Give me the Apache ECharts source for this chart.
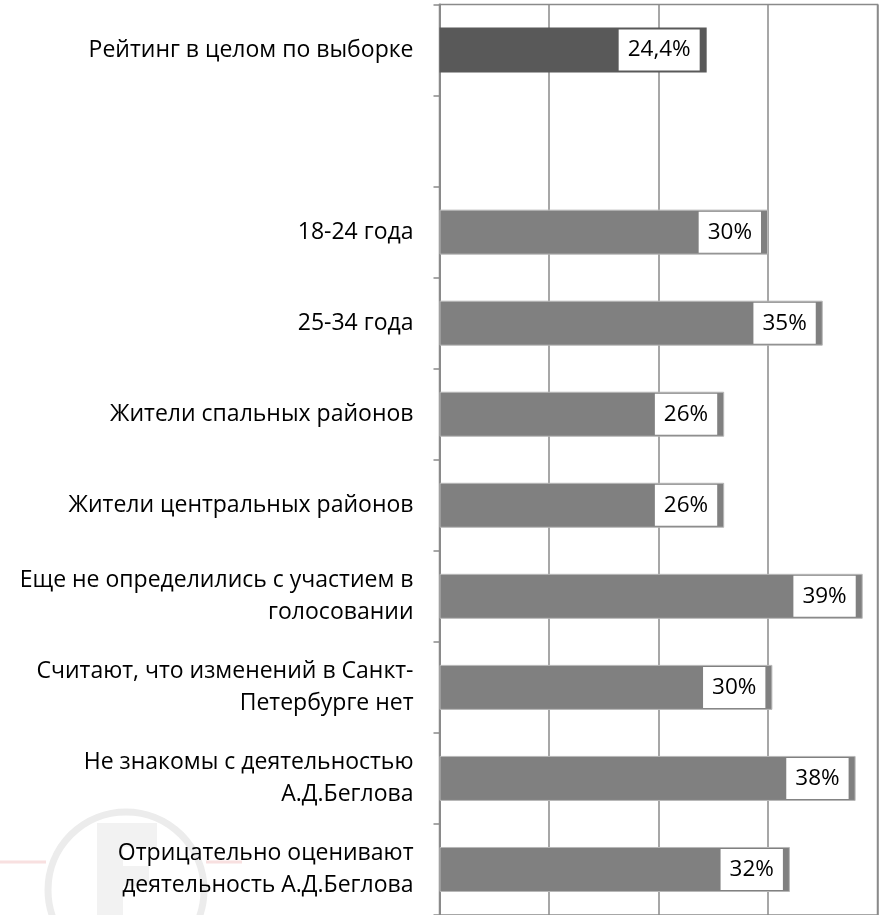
<!DOCTYPE html>
<html>
<head>
<meta charset="utf-8">
<script src="https://cdn.jsdelivr.net/npm/echarts@6/dist/echarts.min.js"></script>
<style>
  html, body { margin: 0; padding: 0; background: #fff; }
  #chart { width: 883px; height: 915px; }
</style>
</head>
<body>
<div id="chart"></div>
<script>
// categories top to bottom, '' is the empty gap row
const categories = [
  'Рейтинг в целом по выборке',
  '',
  '18-24 года',
  '25-34 года',
  'Жители спальных районов',
  'Жители центральных районов',
  'Еще не определились с участием в\nголосовании',
  'Считают, что изменений в Санкт-\nПетербурге нет',
  'Не знакомы с деятельностью\nА.Д.Беглова',
  'Отрицательно оценивают\nдеятельность А.Д.Беглова'
]
const values = [24.4, null, 30.0, 35.0, 26.0, 26.0, 38.65, 30.4, 38.0, 32.0]
const valueLabels = ['24,4%', '', '30%', '35%', '26%', '26%', '39%', '30%', '38%', '32%']

const gridColor = '#8a8a8a'
const font = '"Open Sans", "Noto Sans", sans-serif'

const chart = echarts.init(document.getElementById('chart'))

const seriesData = values.map((v, i) => ({
  value: v,
  itemStyle: i === 0
    ? { color: '#595959' }
    : { color: '#808080', borderColor: '#b8b8b8', borderWidth: 1 }
}))

chart.setOption({
  animation: false,
  backgroundColor: '#fff',
  graphic: [
    // faint watermark in the lower left corner
    { type: 'line', z: -10, shape: { x1: 0, y1: 862, x2: 46, y2: 862 }, style: { stroke: '#f8e0e0', lineWidth: 3 } },
    { type: 'line', z: -10, shape: { x1: 206, y1: 862, x2: 242, y2: 862 }, style: { stroke: '#f8e0e0', lineWidth: 3 } },
    { type: 'circle', z: -10, shape: { cx: 126, cy: 890, r: 78 }, style: { fill: 'none', stroke: '#ececec', lineWidth: 7 } },
    { type: 'rect', z: -10, shape: { x: 97, y: 823, width: 26, height: 92 }, style: { fill: '#f2f2f2' } },
    { type: 'rect', z: -10, shape: { x: 97, y: 823, width: 60, height: 24 }, style: { fill: '#f2f2f2' } },
    { type: 'rect', z: -10, shape: { x: 97, y: 866, width: 52, height: 20 }, style: { fill: '#f2f2f2' } }
  ],
  grid: {
    left: 439.5,
    right: 5.5,
    top: 4.5,
    height: 913,
    show: true,
    borderColor: gridColor,
    borderWidth: 1.5,
    containLabel: false
  },
  xAxis: {
    type: 'value',
    min: 0,
    max: 40,
    interval: 10,
    axisLine: { show: false },
    axisTick: { show: false },
    axisLabel: { show: false },
    splitLine: { show: true, lineStyle: { color: gridColor, width: 1.5 } }
  },
  yAxis: {
    type: 'category',
    inverse: true,
    data: categories,
    axisLine: { show: true, lineStyle: { color: gridColor, width: 2 } },
    axisTick: { show: true, length: 6, lineStyle: { color: gridColor, width: 1.5 } },
    axisLabel: {
      margin: 26,
      color: '#000',
      fontFamily: font,
      fontSize: 23,
      lineHeight: 32,
      align: 'right'
    },
    splitLine: { show: false }
  },
  series: [{
    type: 'bar',
    data: seriesData,
    barWidth: 45,
    label: {
      show: true,
      position: 'insideRight',
      distance: 7,
      formatter: p => valueLabels[p.dataIndex],
      color: '#000',
      fontFamily: font,
      fontSize: 22.5,
      lineHeight: 21,
      backgroundColor: '#fff',
      padding: [10, 9, 10, 9]
    }
  }]
})

window.addEventListener('resize', () => chart.resize())
</script>
</body>
</html>
